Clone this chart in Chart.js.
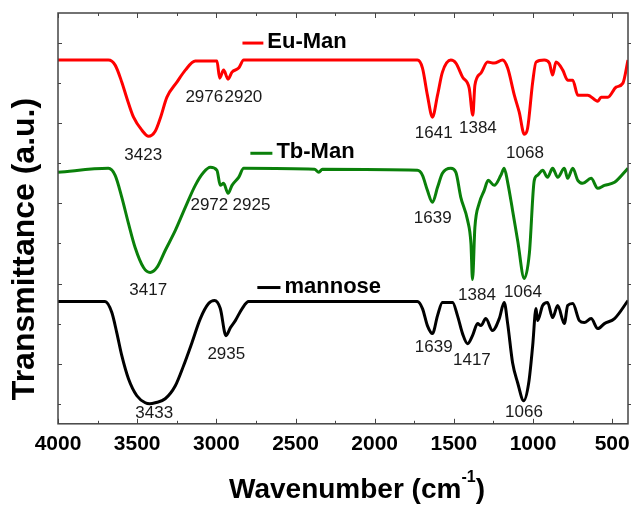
<!DOCTYPE html>
<html>
<head>
<meta charset="utf-8">
<script src="https://cdn.jsdelivr.net/npm/chart.js@4.4.0/dist/chart.umd.min.js"></script>
<style>
  html, body { margin: 0; padding: 0; background: #fff; }
</style>
</head>
<body>
<canvas id="ftir" width="631" height="510"></canvas>
<script>
// Spectra: [wavenumber cm-1, transmittance a.u.]
const euMan = [
  [4000, 363], [3682, 363], [3639, 358], [3597, 341], [3565, 325], [3523, 306],
  [3470, 293], [3428, 287], [3386, 292], [3354, 305], [3312, 326], [3249, 341],
  [3196, 353], [3133, 362], [2996, 362], [2979, 345], [2954, 353], [2926, 344],
  [2901, 351], [2859, 355], [2827, 363], [1730, 363], [1698, 355], [1667, 328],
  [1635, 306], [1603, 328], [1572, 351], [1519, 363], [1487, 360], [1445, 346],
  [1403, 335], [1380, 308], [1367, 338], [1329, 350], [1287, 361], [1245, 360],
  [1192, 363], [1160, 355], [1118, 328], [1087, 311], [1055, 289], [1034, 295],
  [1002, 341], [981, 361], [929, 363], [897, 360], [876, 348], [855, 361],
  [812, 353], [781, 343], [749, 343], [717, 328], [654, 328], [591, 322],
  [570, 326], [527, 326], [475, 336], [432, 340], [400, 363]
];
const tbMan = [
  [4000, 251], [3682, 255], [3639, 248], [3597, 226], [3555, 200], [3513, 176],
  [3460, 156], [3418, 151], [3375, 156], [3323, 173], [3259, 193], [3196, 216],
  [3133, 238], [3080, 251], [3038, 256], [2996, 253], [2975, 238], [2954, 240],
  [2926, 230], [2901, 238], [2859, 246], [2827, 255], [2380, 254], [2353, 251],
  [2330, 254], [1730, 253], [1698, 248], [1667, 233], [1635, 221], [1603, 236],
  [1572, 250], [1519, 255], [1487, 251], [1456, 226], [1413, 203], [1392, 180],
  [1382, 144], [1367, 196], [1340, 220], [1308, 233], [1283, 243], [1245, 238],
  [1203, 248], [1182, 255], [1160, 241], [1129, 213], [1097, 183], [1055, 145],
  [1023, 170], [992, 243], [971, 248], [939, 253], [908, 246], [876, 255],
  [844, 246], [802, 255], [781, 245], [749, 255], [717, 243], [686, 240],
  [633, 245], [591, 235], [549, 238], [485, 241], [400, 255]
];
const mannose = [
  [4000, 122], [3703, 122], [3660, 111], [3629, 91], [3597, 68], [3555, 45],
  [3502, 28], [3449, 21], [3420, 20], [3386, 21], [3323, 25], [3259, 38],
  [3207, 58], [3154, 81], [3101, 105], [3049, 120], [3011, 123], [2975, 115],
  [2939, 88], [2911, 96], [2880, 103], [2837, 115], [2796, 122], [1730, 122],
  [1698, 115], [1667, 98], [1635, 90], [1603, 108], [1572, 121], [1508, 121],
  [1477, 108], [1445, 90], [1413, 80], [1382, 88], [1350, 100], [1329, 98],
  [1298, 105], [1256, 93], [1213, 105], [1182, 121], [1160, 100], [1129, 61],
  [1097, 41], [1059, 23], [1027, 41], [1002, 78], [981, 115], [971, 103],
  [939, 118], [908, 121], [876, 106], [844, 118], [802, 100], [781, 118],
  [749, 120], [707, 103], [676, 101], [633, 105], [591, 95], [549, 100],
  [485, 105], [400, 123]
];

const seriesNames = ['Eu-Man', 'Tb-Man', 'mannose'];
const seriesColors = ['#ff0000', '#0a800a', '#000000'];
// legend key: [line start wavenumber, line end wavenumber, level]
const keyPos = [[2835, 2703, 380], [2785, 2646, 270], [2741, 2595, 136]];

// peak labels: [text, wavenumber, level]
const peakLabels = [
  ['3423', 3462, 268], ['2976', 3076, 326], ['2920', 2829, 326],
  ['1641', 1627, 290], ['1384', 1348, 295], ['1068', 1051, 270],
  ['3417', 3430, 133], ['2972', 3044, 218], ['2925', 2778, 218],
  ['1639', 1633, 205], ['1384', 1354, 128], ['1064', 1063, 131],
  ['3433', 3392, 10], ['2935', 2937, 69], ['1639', 1627, 76],
  ['1417', 1386, 63], ['1066', 1057, 11]
];

const xTicks = [4000, 3500, 3000, 2500, 2000, 1500, 1000, 500];
const yTicks = [20, 60, 100, 140, 180, 220, 260, 300, 340, 380];

const toXY = arr => arr.map(p => ({ x: p[0], y: p[1] }));

const decor = {
  id: 'decor',
  afterDraw(chart) {
    const { ctx, chartArea: a, scales: { x, y } } = chart;
    ctx.save();

    // frame
    ctx.strokeStyle = '#444';
    ctx.lineWidth = 1.5;
    ctx.strokeRect(a.left, a.top, a.right - a.left, a.bottom - a.top);

    // inward tick marks
    ctx.lineWidth = 1;
    ctx.beginPath();
    xTicks.forEach(v => {
      const px = Math.round(x.getPixelForValue(v)) + 0.5;
      ctx.moveTo(px, a.bottom); ctx.lineTo(px, a.bottom - 5);
      ctx.moveTo(px, a.top); ctx.lineTo(px, a.top + 5);
      const pm = Math.round(x.getPixelForValue(v - 250)) + 0.5;
      ctx.moveTo(pm, a.bottom); ctx.lineTo(pm, a.bottom - 3);
      ctx.moveTo(pm, a.top); ctx.lineTo(pm, a.top + 3);
    });
    yTicks.forEach((v, i) => {
      const py = Math.round(y.getPixelForValue(v)) + 0.5;
      const len = i % 2 ? 4 : 3;
      ctx.moveTo(a.left, py); ctx.lineTo(a.left + len, py);
      ctx.moveTo(a.right, py); ctx.lineTo(a.right + 3, py);
    });
    ctx.stroke();

    // peak labels
    ctx.fillStyle = '#1a1a1a';
    ctx.font = '17px "Liberation Sans", Arial, sans-serif';
    ctx.textAlign = 'center';
    ctx.textBaseline = 'middle';
    peakLabels.forEach(([t, wn, lv]) => {
      ctx.fillText(t, x.getPixelForValue(wn), y.getPixelForValue(lv));
    });

    // series keys
    ctx.font = 'bold 22px "Liberation Sans", Arial, sans-serif';
    ctx.textAlign = 'left';
    ctx.textBaseline = 'alphabetic';
    keyPos.forEach(([w0, w1, lv], i) => {
      const x0 = x.getPixelForValue(w0), x1 = x.getPixelForValue(w1);
      const py = y.getPixelForValue(lv);
      ctx.strokeStyle = seriesColors[i];
      ctx.lineWidth = 3;
      ctx.beginPath(); ctx.moveTo(x0, py); ctx.lineTo(x1, py); ctx.stroke();
      ctx.fillStyle = '#000';
      ctx.fillText(seriesNames[i], x1 + 4, py + 5);
    });

    // axis titles
    ctx.fillStyle = '#000';
    ctx.textBaseline = 'middle';
    ctx.textAlign = 'center';
    ctx.save();
    ctx.translate(25, 249);
    ctx.rotate(-Math.PI / 2);
    ctx.font = 'bold 32px "Liberation Sans", Arial, sans-serif';
    ctx.fillText('Transmittance (a.u.)', 0, 0);
    ctx.restore();

    const main = 'Wavenumber (cm', sup = '-1', tail = ')';
    ctx.font = 'bold 28px "Liberation Sans", Arial, sans-serif';
    const wMain = ctx.measureText(main).width, wTail = ctx.measureText(tail).width;
    ctx.font = 'bold 16px "Liberation Sans", Arial, sans-serif';
    const wSup = ctx.measureText(sup).width;
    let tx = (a.left + a.right) / 2 - (wMain + wSup + wTail) / 2 + 14;
    const ty = 490;
    ctx.textAlign = 'left';
    ctx.font = 'bold 28px "Liberation Sans", Arial, sans-serif';
    ctx.fillText(main, tx, ty);
    ctx.font = 'bold 16px "Liberation Sans", Arial, sans-serif';
    ctx.fillText(sup, tx + wMain, ty - 12);
    ctx.font = 'bold 28px "Liberation Sans", Arial, sans-serif';
    ctx.fillText(tail, tx + wMain + wSup, ty);

    ctx.restore();
  }
};

new Chart(document.getElementById('ftir'), {
  type: 'line',
  data: {
    datasets: [euMan, tbMan, mannose].map((s, i) => ({
      label: seriesNames[i],
      data: toXY(s),
      borderColor: seriesColors[i],
      borderWidth: 3,
      pointRadius: 0,
      fill: false,
      cubicInterpolationMode: 'monotone'
    }))
  },
  options: {
    responsive: false,
    animation: false,
    layout: { autoPadding: false, padding: { left: 58, right: 3, top: 13, bottom: 45 } },
    scales: {
      x: {
        type: 'linear',
        reverse: true,
        min: 400,
        max: 4000,
        afterBuildTicks: s => { s.ticks = xTicks.map(v => ({ value: v })); },
        afterFit: s => { s.paddingLeft = 0; s.paddingRight = 0; },
        grid: { display: false, drawTicks: false },
        border: { display: false },
        ticks: {
          padding: 8,
          color: '#000',
          font: { family: '"Liberation Sans", Arial, sans-serif', size: 21, weight: 'bold' },
          callback: v => String(v)
        }
      },
      y: {
        display: false,
        min: 0,
        max: 410
      }
    },
    plugins: {
      legend: { display: false },
      tooltip: { enabled: false }
    }
  },
  plugins: [decor]
});
</script>
</body>
</html>
